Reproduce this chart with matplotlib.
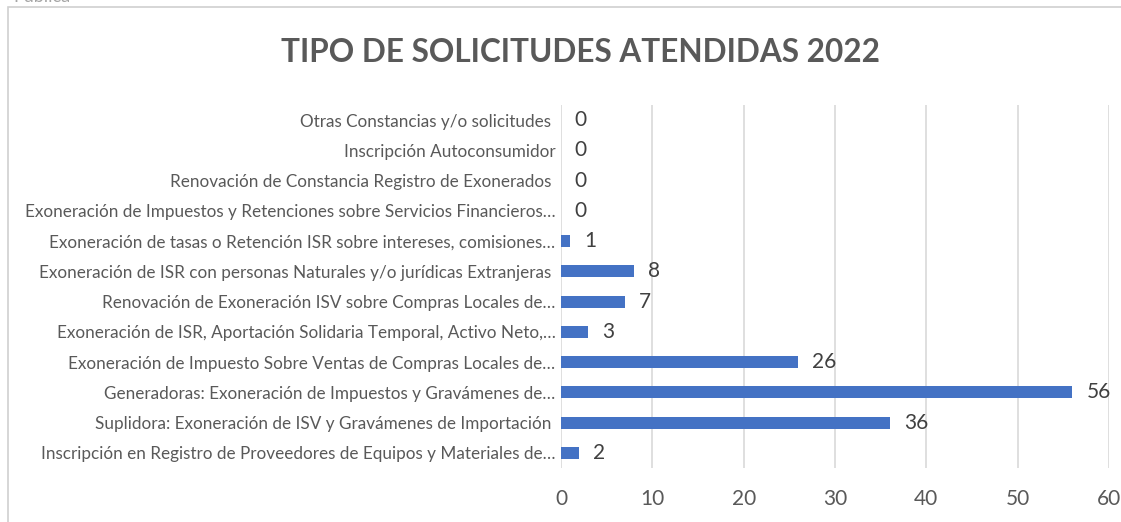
import matplotlib.pyplot as plt
from matplotlib.patches import Rectangle

plt.rcParams["font.family"] = ["Lato", "DejaVu Sans"]

# Categories listed top to bottom as they appear on the chart.
categories = [
    "Otras Constancias y/o solicitudes ",
    "Inscripción Autoconsumidor",
    "Renovación de Constancia Registro de Exonerados ",
    "Exoneración de Impuestos y Retenciones sobre Servicios Financieros…",
    "Exoneración de tasas o Retención ISR sobre intereses, comisiones…",
    "Exoneración de ISR con personas Naturales y/o jurídicas Extranjeras ",
    "Renovación de Exoneración ISV sobre Compras Locales de…",
    "Exoneración de ISR, Aportación Solidaria Temporal, Activo Neto,…",
    "Exoneración de Impuesto Sobre Ventas de Compras Locales de…",
    "Generadoras: Exoneración de Impuestos y Gravámenes de…",
    "Suplidora: Exoneración de ISV y Gravámenes de Importación ",
    "Inscripción en Registro de Proveedores de Equipos y Materiales de…",
]
counts = [0, 0, 0, 0, 1, 8, 7, 3, 26, 56, 36, 2]
x_ticks = [0, 10, 20, 30, 40, 50, 60]

BAR = "#4472C4"
TEXT = "#595959"
GRID = "#D9D9D9"


def plot_requests():
    fig = plt.figure(figsize=(11.21, 5.22), dpi=100)
    ax = fig.add_axes([0.5004, 0.1034, 0.4889, 0.6956])

    # Chart frame and the clipped header text above it.
    fig.patches.append(
        Rectangle((8 / 1121, -0.1), 1.2, 1 - 7 / 522 + 0.1, transform=fig.transFigure,
                  fill=False, edgecolor="#D0D0D0", linewidth=1.2)
    )
    fig.text(0.012, 1 - 5 / 522, "Pública", fontsize=13, color="#A6A6A6", va="bottom")

    positions = range(len(categories))
    ax.barh(positions, counts, height=0.4, color=BAR, zorder=3)

    for pos, val in zip(positions, counts):
        ax.annotate(str(val), (val, pos), xytext=(10, 0), textcoords="offset points",
                    ha="left", va="center", fontsize=15, color="#404040")

    ax.set_yticks(list(positions))
    ax.set_yticklabels(categories, fontsize=12.3, color=TEXT)
    ax.set_ylim(len(categories) - 0.5, -0.5)

    ax.set_xlim(0, 60)
    ax.set_xticks(x_ticks)
    ax.set_xticklabels([str(t) for t in x_ticks], fontsize=15, color=TEXT)
    ax.tick_params(axis="both", length=0)
    ax.tick_params(axis="x", pad=15)
    ax.tick_params(axis="y", pad=4)

    ax.grid(axis="x", color=GRID, linewidth=1.2, zorder=0)
    for side in ["top", "right", "bottom", "left"]:
        ax.spines[side].set_visible(False)

    fig.text(0.518, 0.9, "TIPO DE SOLICITUDES ATENDIDAS 2022", ha="center", va="center",
             fontsize=22.7, fontweight="bold", color=TEXT)

    fig.savefig("out.png", dpi=100)
    plt.close(fig)


if __name__ == "__main__":
    plot_requests()
